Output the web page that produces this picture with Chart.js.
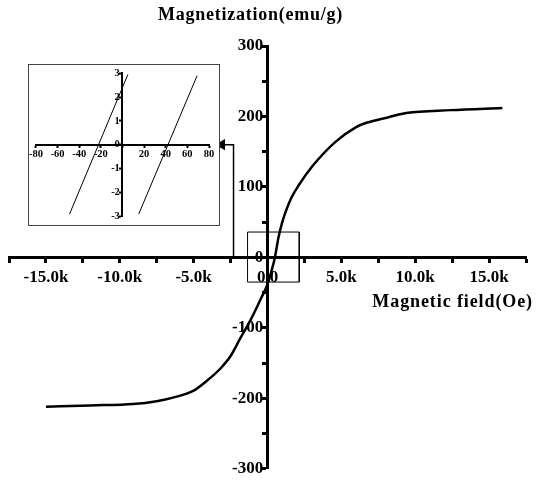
<!DOCTYPE html>
<html>
<head>
<meta charset="utf-8">
<script src="https://cdn.jsdelivr.net/npm/chart.js@4.4.0/dist/chart.umd.min.js"></script>
<style>
  html, body { margin: 0; padding: 0; background: #fff; }
  #wrap { position: relative; width: 536px; height: 482px; }
  #main { position: absolute; left: 0; top: 0; }
  #inset { position: absolute; left: 28px; top: 64px; }
</style>
</head>
<body>
<div id="wrap">
  <canvas id="main" width="536" height="482"></canvas>
  <canvas id="inset" width="192" height="162"></canvas>
</div>
<script>
// main loop (Oe / emu/g)
var fieldOe = [-15000, -12000, -9100, -7500, -6400, -5000, -4100, -3200, -2500, -1850, -1150, -480, 0, 300, 500, 750, 1000, 1250, 1600, 2100, 3060, 4600, 6000, 6700, 8200, 9400, 12400, 15900];
var magnet  = [-212, -210, -208, -204, -199, -189, -175, -158, -140, -115, -89, -60, -38, -17, 0, 29, 50, 66, 84, 102, 130, 164, 185, 191, 199, 205, 209, 212];

// zoom box around the origin and the pointer to the inset
var boxX = [-1350, 2150, 2150, -1350, -1350];
var boxY = [36, 36, -35, -35, 36];
var pointerX = [-2300, -2300, -3100];
var pointerY = [0, 160, 160];

// inset: the two branches near zero field
var leftBranchX = [-49, 5];
var leftBranchY = [-2.92, 2.95];
var rightBranchX = [15, 69];
var rightBranchY = [-2.92, 2.9];

var xTitle = 'Magnetic field(Oe)';
var yTitle = 'Magnetization(emu/g)';

function toPoints(xs, ys) {
  return xs.map(function (x, i) { return { x: x, y: ys[i] }; });
}

var serif = '"Liberation Serif", "Times New Roman", serif';

var axisTitles = {
  id: 'axisTitles',
  afterDraw: function (chart) {
    var ctx = chart.ctx;
    var xs = chart.scales.x, ys = chart.scales.y;
    ctx.save();
    ctx.fillStyle = '#000';
    ctx.font = 'bold 18px ' + serif;
    ctx.textBaseline = 'middle';
    ctx.textAlign = 'center';
    ctx.letterSpacing = '0.75px';
    ctx.fillText(yTitle, xs.getPixelForValue(0) - 17, 15);
    ctx.textAlign = 'right';
    ctx.letterSpacing = '0.9px';
    ctx.fillText(xTitle, chart.width - 3, ys.getPixelForValue(0) + 45);
    ctx.restore();
  }
};

new Chart(document.getElementById('main').getContext('2d'), {
  type: 'scatter',
  data: {
    datasets: [{
      data: toPoints(fieldOe, magnet),
      showLine: true,
      borderColor: '#000',
      borderWidth: 2.5,
      pointRadius: 0,
      cubicInterpolationMode: 'monotone'
    }, {
      data: toPoints(boxX, boxY),
      showLine: true,
      borderColor: '#000',
      borderWidth: 1,
      pointRadius: 0
    }, {
      data: toPoints(pointerX, pointerY),
      showLine: true,
      borderColor: '#000',
      borderWidth: 1.5,
      backgroundColor: '#000',
      pointRadius: [0, 0, 5],
      pointStyle: 'triangle',
      rotation: 270
    }]
  },
  options: {
    responsive: false,
    animation: false,
    layout: { padding: { left: 9, right: 10, top: 46, bottom: 8 } },
    plugins: { legend: { display: false }, tooltip: { enabled: false } },
    scales: {
      x: {
        type: 'linear',
        position: { y: 0 },
        min: -17500,
        max: 17500,
        afterFit: function (s) { s.height = 0; },
        border: { color: '#000', width: 3 },
        grid: { drawOnChartArea: false, color: '#000', tickLength: 4, tickWidth: 3 },
        ticks: {
          stepSize: 2500,
          autoSkip: false,
          maxRotation: 0,
          padding: 6,
          color: '#000',
          font: { family: serif, size: 17, weight: 'bold' },
          callback: function (v) {
            if (v === 0) return '0.0';
            return v % 5000 === 0 ? (v / 1000).toFixed(1) + 'k' : '';
          }
        }
      },
      y: {
        type: 'linear',
        position: { x: 0 },
        min: -300,
        max: 300,
        afterFit: function (s) { s.width = 0; },
        border: { color: '#000', width: 3 },
        grid: { drawOnChartArea: false, color: '#000', tickLength: 4, tickWidth: 3 },
        ticks: {
          stepSize: 50,
          autoSkip: false,
          color: '#000',
          font: { family: serif, size: 17, weight: 'bold' },
          callback: function (v) { return v % 100 === 0 ? v + ' ' : ''; }
        }
      }
    }
  },
  plugins: [axisTitles]
});

var insetFrame = {
  id: 'insetFrame',
  beforeDraw: function (chart) {
    var ctx = chart.ctx;
    ctx.save();
    ctx.fillStyle = '#fff';
    ctx.fillRect(0, 0, chart.width, chart.height);
    ctx.strokeStyle = '#444';
    ctx.lineWidth = 1;
    ctx.strokeRect(0.5, 0.5, chart.width - 1, chart.height - 1);
    ctx.restore();
  }
};

var smallFont = { family: serif, size: 10.5, weight: 'bold' };

new Chart(document.getElementById('inset').getContext('2d'), {
  type: 'scatter',
  data: {
    datasets: [{
      data: toPoints(leftBranchX, leftBranchY),
      showLine: true, borderColor: '#000', borderWidth: 1, pointRadius: 0
    }, {
      data: toPoints(rightBranchX, rightBranchY),
      showLine: true, borderColor: '#000', borderWidth: 1, pointRadius: 0
    }]
  },
  options: {
    responsive: false,
    animation: false,
    layout: { padding: { left: 5, right: 11, top: 8, bottom: 10 } },
    plugins: { legend: { display: false }, tooltip: { enabled: false } },
    scales: {
      x: {
        type: 'linear',
        position: { y: 0 },
        min: -80,
        max: 80,
        afterFit: function (s) { s.height = 0; },
        border: { color: '#000', width: 2 },
        grid: { drawOnChartArea: false, color: '#000', tickLength: 2, tickWidth: 2 },
        ticks: {
          stepSize: 20,
          autoSkip: false,
          maxRotation: 0,
          padding: 1,
          color: '#000',
          font: smallFont,
          callback: function (v) { return v === 0 ? '' : String(v); }
        }
      },
      y: {
        type: 'linear',
        position: { x: 0 },
        min: -3,
        max: 3,
        afterFit: function (s) { s.width = 0; },
        border: { color: '#000', width: 2 },
        grid: { drawOnChartArea: false, color: '#000', tickLength: 2, tickWidth: 2 },
        ticks: {
          stepSize: 1,
          autoSkip: false,
          color: '#000',
          font: smallFont,
          callback: function (v) { return v + ' '; }
        }
      }
    }
  },
  plugins: [insetFrame]
});
</script>
</body>
</html>
